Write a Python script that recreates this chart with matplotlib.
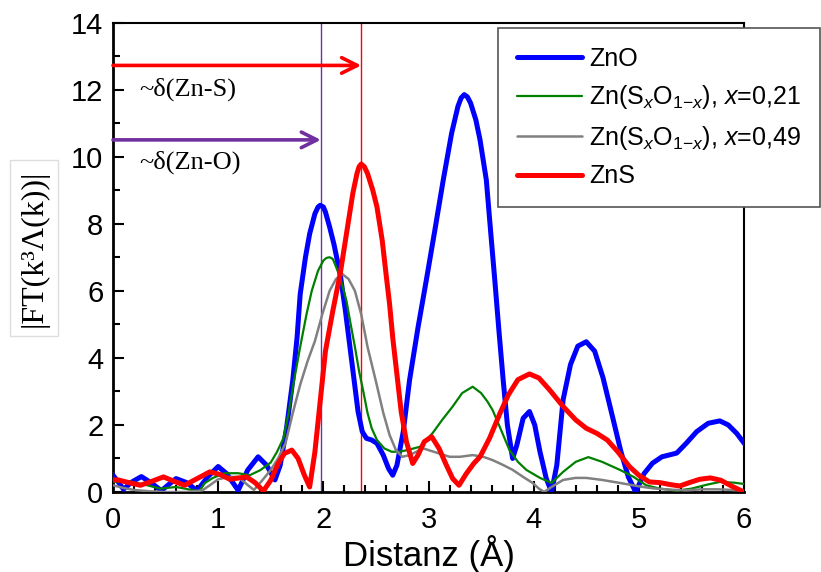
import matplotlib
matplotlib.use("Agg")
import matplotlib.pyplot as plt
from matplotlib.ticker import MultipleLocator

plt.rcParams['font.family'] = ['Liberation Sans', 'DejaVu Sans']
plt.rcParams['mathtext.fontset'] = 'custom'
plt.rcParams['mathtext.rm'] = 'Liberation Sans'
plt.rcParams['mathtext.it'] = 'Liberation Sans:italic'

# ZnO
zno_r = [0.00, 0.05, 0.10, 0.18, 0.27, 0.36, 0.46, 0.54, 0.60, 0.70, 0.80, 0.90, 1.00, 1.08,
         1.19, 1.28, 1.38, 1.46, 1.54, 1.59, 1.65, 1.71, 1.75, 1.78, 1.83, 1.87, 1.92, 1.95,
         1.97, 2.00, 2.02, 2.06, 2.10, 2.16, 2.21, 2.25, 2.29, 2.33, 2.37, 2.41, 2.46, 2.51,
         2.57, 2.62, 2.66, 2.70, 2.76, 2.82, 2.90, 2.98, 3.06, 3.14, 3.22, 3.28, 3.31, 3.34,
         3.37, 3.40, 3.45, 3.49, 3.55, 3.59, 3.63, 3.67, 3.71, 3.75, 3.80, 3.84, 3.90, 3.96,
         4.01, 4.06, 4.12, 4.17, 4.22, 4.28, 4.35, 4.42, 4.50, 4.58, 4.66, 4.75, 4.83, 4.90,
         4.97, 5.05, 5.13, 5.22, 5.36, 5.45, 5.55, 5.66, 5.77, 5.85, 5.93, 6.00]
zno_ft = [0.50, 0.30, 0.08, 0.30, 0.46, 0.28, 0.04, 0.25, 0.40, 0.28, 0.04, 0.45, 0.76, 0.55,
          0.05, 0.65, 1.05, 0.80, 0.36, 0.80, 1.90, 3.35, 4.60, 5.90, 7.00, 7.70, 8.30, 8.50,
          8.55, 8.50, 8.35, 7.90, 7.40, 6.50, 5.40, 4.40, 3.40, 2.40, 1.80, 1.60, 1.55, 1.45,
          1.10, 0.70, 0.50, 0.80, 1.80, 3.34, 4.90, 6.33, 7.80, 9.30, 10.70, 11.50, 11.75, 11.85,
          11.78, 11.60, 11.10, 10.50, 9.30, 7.80, 6.33, 4.80, 3.34, 2.00, 1.00, 1.40, 2.20, 2.40,
          2.00, 1.20, 0.40, 0.00, 0.80, 2.75, 3.80, 4.35, 4.48, 4.20, 3.40, 2.24, 1.20, 0.45,
          0.00, 0.55, 0.86, 1.05, 1.16, 1.45, 1.80, 2.05, 2.12, 2.00, 1.75, 1.46]

# Zn(SxO1-x), x = 0.21
s21_r = [0.00, 0.15, 0.30, 0.45, 0.60, 0.72, 0.82, 0.87, 0.95, 1.06, 1.19, 1.30, 1.40, 1.50,
         1.56, 1.62, 1.67, 1.72, 1.78, 1.84, 1.89, 1.95, 2.00, 2.03, 2.06, 2.09, 2.11, 2.16,
         2.22, 2.26, 2.30, 2.34, 2.38, 2.42, 2.46, 2.51, 2.58, 2.65, 2.72, 2.80, 2.92, 3.04,
         3.13, 3.23, 3.32, 3.42, 3.50, 3.56, 3.61, 3.69, 3.77, 3.85, 3.93, 4.06, 4.17, 4.28,
         4.40, 4.52, 4.65, 4.82, 4.95, 5.07, 5.20, 5.36, 5.50, 5.65, 5.77, 5.90, 6.00]
s21_ft = [0.30, 0.32, 0.22, 0.10, 0.15, 0.08, 0.02, 0.26, 0.42, 0.56, 0.56, 0.50, 0.65, 0.88,
          1.20, 1.60, 2.36, 3.30, 4.33, 5.30, 6.00, 6.60, 6.90, 6.98, 7.00, 6.95, 6.80, 6.40,
          5.70, 5.00, 4.33, 3.60, 3.00, 2.36, 1.90, 1.55, 1.30, 1.20, 1.20, 1.25, 1.35, 1.76,
          2.15, 2.55, 2.95, 3.14, 2.95, 2.70, 2.44, 1.85, 1.25, 0.90, 0.66, 0.42, 0.27, 0.60,
          0.90, 1.04, 0.90, 0.66, 0.45, 0.20, 0.10, 0.04, 0.10, 0.22, 0.30, 0.28, 0.24]

# Zn(SxO1-x), x = 0.49
s49_r = [0.00, 0.10, 0.20, 0.35, 0.50, 0.70, 0.85, 0.92, 1.00, 1.10, 1.19, 1.28, 1.34, 1.42,
         1.50, 1.57, 1.64, 1.71, 1.78, 1.85, 1.92, 1.99, 2.06, 2.12, 2.18, 2.24, 2.30, 2.36,
         2.42, 2.50, 2.57, 2.63, 2.69, 2.75, 2.82, 2.95, 3.05, 3.20, 3.30, 3.42, 3.52, 3.61,
         3.70, 3.80, 3.90, 3.99, 4.05, 4.10, 4.17, 4.28, 4.40, 4.50, 4.65, 4.82, 5.00, 5.13,
         5.30, 5.45, 5.60, 5.75, 5.90, 6.00]
s49_ft = [0.20, 0.12, 0.06, 0.02, 0.00, 0.00, 0.05, 0.20, 0.38, 0.45, 0.45, 0.21, 0.06, 0.35,
          0.66, 1.00, 1.45, 2.36, 3.20, 3.90, 4.50, 5.30, 6.00, 6.35, 6.50, 6.35, 6.00, 5.30,
          4.33, 3.30, 2.36, 1.70, 1.25, 1.05, 1.10, 1.30, 1.20, 1.05, 1.05, 1.10, 1.05, 0.95,
          0.82, 0.66, 0.45, 0.27, 0.10, 0.00, 0.15, 0.36, 0.42, 0.42, 0.36, 0.27, 0.17, 0.11,
          0.07, 0.05, 0.08, 0.08, 0.06, 0.05]

# ZnS
zns_r = [0.00, 0.05, 0.15, 0.26, 0.37, 0.48, 0.58, 0.68, 0.80, 0.92, 1.02, 1.11, 1.20, 1.27,
         1.35, 1.43, 1.50, 1.57, 1.63, 1.70, 1.76, 1.82, 1.87, 1.92, 1.98, 2.02, 2.09, 2.16,
         2.22, 2.28, 2.32, 2.34, 2.36, 2.39, 2.42, 2.47, 2.51, 2.56, 2.60, 2.63, 2.66, 2.70,
         2.74, 2.79, 2.85, 2.90, 2.96, 3.03, 3.10, 3.17, 3.23, 3.29, 3.36, 3.43, 3.49, 3.58,
         3.68, 3.76, 3.85, 3.96, 4.05, 4.15, 4.28, 4.40, 4.50, 4.60, 4.70, 4.80, 4.91, 5.00,
         5.10, 5.20, 5.30, 5.39, 5.48, 5.58, 5.68, 5.78, 5.88, 6.00]
zns_ft = [0.36, 0.36, 0.28, 0.20, 0.32, 0.45, 0.32, 0.20, 0.40, 0.60, 0.52, 0.38, 0.42, 0.45,
          0.28, 0.03, 0.35, 0.85, 1.15, 1.25, 1.00, 0.50, 0.15, 1.20, 3.00, 4.20, 5.40, 6.50,
          7.70, 8.90, 9.50, 9.70, 9.78, 9.70, 9.50, 9.00, 8.50, 7.50, 6.40, 5.60, 4.60, 3.50,
          2.40, 1.50, 0.85, 1.10, 1.50, 1.65, 1.30, 0.80, 0.40, 0.20, 0.55, 0.85, 1.05, 1.60,
          2.35, 2.90, 3.35, 3.52, 3.40, 3.05, 2.55, 2.15, 1.90, 1.75, 1.55, 1.20, 0.76, 0.50,
          0.30, 0.28, 0.22, 0.18, 0.28, 0.38, 0.42, 0.35, 0.18, 0.00]

labels = ["ZnO",
          r"Zn(S$_x$O$_{1\mathrm{-}x}$), $x$=0,21",
          r"Zn(S$_x$O$_{1\mathrm{-}x}$), $x$=0,49",
          "ZnS"]

# Bond distances marked by vertical lines and arrows
d_zno = 1.977
d_zns = 2.36
arrow_y_zns = 12.72
arrow_y_zno = 10.5

fig = plt.figure(figsize=(8.21, 5.72), dpi=100)
ax = fig.add_axes([113 / 821, 1 - 492 / 572, (744 - 113) / 821, (492 - 22.5) / 572])

ax.axvline(d_zno, color='#7030A0', lw=1.0, zorder=1)
ax.axvline(d_zns, color='#FF0000', lw=1.0, zorder=1)

ax.plot(zno_r, zno_ft, color='#0000FF', lw=3.6, label=labels[0], zorder=3,
        solid_joinstyle='round')
ax.plot(s21_r, s21_ft, color='#008000', lw=1.6, label=labels[1], zorder=3)
ax.plot(s49_r, s49_ft, color='#808080', lw=1.8, label=labels[2], zorder=3)
ax.plot(zns_r, zns_ft, color='#FF0000', lw=3.6, label=labels[3], zorder=4,
        solid_joinstyle='round')

ax.annotate("", xy=(d_zns, arrow_y_zns), xytext=(0, arrow_y_zns),
            arrowprops=dict(arrowstyle='->', color='#FF0000', lw=2.6, mutation_scale=28,
                            shrinkA=0, shrinkB=0))
ax.annotate("", xy=(d_zno, arrow_y_zno), xytext=(0, arrow_y_zno),
            arrowprops=dict(arrowstyle='->', color='#7030A0', lw=2.6, mutation_scale=28,
                            shrinkA=0, shrinkB=0))
serif = ['Liberation Serif', 'DejaVu Serif']
ax.text(0.25, 12.0, "~δ(Zn-S)", family=serif, fontsize=19, va='center', ha='left')
ax.text(0.25, 9.82, "~δ(Zn-O)", family=serif, fontsize=19, va='center', ha='left')

ax.set_xlim(0, 6)
ax.set_ylim(0, 14)
ax.xaxis.set_major_locator(MultipleLocator(1))
ax.xaxis.set_minor_locator(MultipleLocator(0.2))
ax.yaxis.set_major_locator(MultipleLocator(2))
ax.yaxis.set_minor_locator(MultipleLocator(1))
ax.tick_params(which='both', direction='in', top=False, right=False, width=1.5, labelsize=21)
ax.tick_params(axis='x', which='major', length=8, pad=10)
ax.tick_params(axis='y', which='major', length=8, pad=7)
ax.tick_params(which='minor', length=5)
for side in ['left', 'bottom']:
    ax.spines[side].set_linewidth(2.0)
for side in ['top', 'right']:
    ax.spines[side].set_linewidth(1.5)

ax.set_xlabel("Distanz (Å)", fontsize=25, labelpad=1)

fig.text(34 / 821, 1 - 248 / 572, "|FT(k³Λ(k))|", rotation=90, ha='center', va='center',
         family=serif, fontsize=23,
         bbox=dict(boxstyle='square,pad=0.3', fc='white', ec='#dddddd', lw=1.0))

leg = fig.legend(loc='upper left', bbox_to_anchor=(498 / 821, 1 - 28 / 572), fontsize=18,
                 frameon=True, fancybox=False, framealpha=1, edgecolor='#555555',
                 handlelength=2.6, handletextpad=0.3, labelspacing=0.5, borderpad=0.75,
                 borderaxespad=0)
leg.get_frame().set_linewidth(1.2)
for h in leg.get_lines():
    h.set_solid_capstyle('round')

fig.savefig("out.png", dpi=100)
